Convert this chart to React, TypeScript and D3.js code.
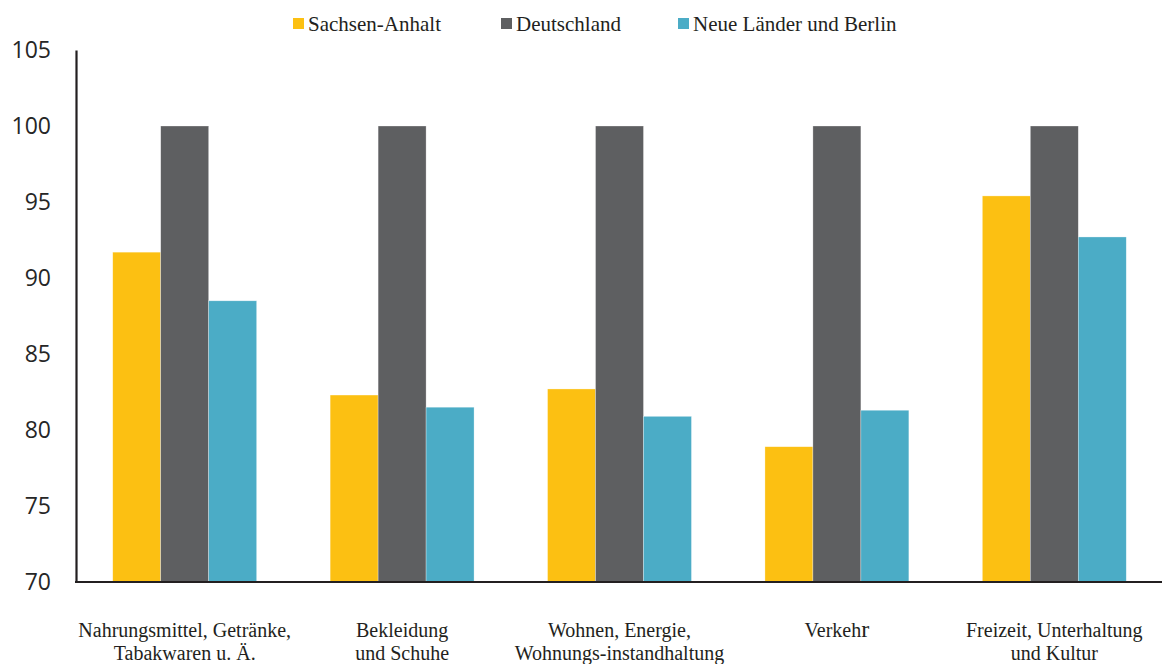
import { useEffect, useRef } from 'react';
import * as d3 from 'd3';

const categories = [
  ['Nahrungsmittel, Getränke,', 'Tabakwaren u. Ä.'],
  ['Bekleidung', 'und Schuhe'],
  ['Wohnen, Energie,', 'Wohnungs-instandhaltung'],
  ['Verkehr'],
  ['Freizeit, Unterhaltung', 'und Kultur'],
];
const seriesNames = ['Sachsen-Anhalt', 'Deutschland', 'Neue Länder und Berlin'];
const sachsenAnhalt = [91.7, 82.3, 82.7, 78.9, 95.4];
const deutschland = [100, 100, 100, 100, 100];
const neueLaender = [88.5, 81.5, 80.9, 81.3, 92.7];
const yTicks = [70, 75, 80, 85, 90, 95, 100, 105];
const colors = ['#FCC012', '#5E5F61', '#4BACC6'];

export default function App() {
  const svgRef = useRef<SVGSVGElement>(null);

  useEffect(() => {
    if (!svgRef.current) return;
    document.body.style.margin = '0';

    const width = 1162;
    const height = 664;
    const margin = { top: 50, right: 0, bottom: 82, left: 76 };
    const serif = '"Liberation Serif", "Times New Roman", serif';

    d3.select(svgRef.current).selectAll('*').remove();
    const svg = d3.select(svgRef.current)
      .attr('width', width)
      .attr('height', height);

    const series = [sachsenAnhalt, deutschland, neueLaender];
    const idx = categories.map((_, i) => i);

    const x0 = d3.scaleBand<number>()
      .domain(idx)
      .range([margin.left, width + 1])
      .paddingInner(0.338)
      .paddingOuter(0.169);

    const x1 = d3.scaleBand<number>()
      .domain([0, 1, 2])
      .range([0, x0.bandwidth()]);

    const y = d3.scaleLinear()
      .domain([70, 105])
      .range([height - margin.bottom, margin.top]);

    // bars
    series.forEach((vals, s) => {
      svg.append('g')
        .selectAll('rect')
        .data(vals)
        .enter()
        .append('rect')
        .attr('x', (_, i) => (x0(i) as number) + (x1(s) as number))
        .attr('y', d => y(d))
        .attr('width', x1.bandwidth())
        .attr('height', d => y(70) - y(d))
        .attr('fill', colors[s])
        .attr('stroke', '#ffffff')
        .attr('stroke-opacity', 0.5)
        .attr('stroke-width', 0.6);
    });

    // y axis
    const yAxis = svg.append('g')
      .attr('transform', `translate(${margin.left},0)`)
      .call(d3.axisLeft(y).tickValues(yTicks).tickSize(0).tickPadding(25));
    yAxis.select('.domain').attr('stroke', '#231F20').attr('stroke-width', 2.2);
    yAxis.selectAll('text')
      .attr('fill', '#262626')
      .style('font-family', '"Open Sans", "Liberation Sans", sans-serif')
      .style('font-size', '23px');

    // baseline
    svg.append('line')
      .attr('x1', margin.left - 1)
      .attr('x2', width)
      .attr('y1', y(70))
      .attr('y2', y(70))
      .attr('stroke', '#231F20')
      .attr('stroke-width', 2.2);

    // category labels
    const labels = svg.append('g')
      .style('font-family', serif)
      .style('font-size', '20px')
      .attr('fill', '#231F20');
    categories.forEach((lines, i) => {
      const cx = (x0(i) as number) + x0.bandwidth() / 2;
      const t = labels.append('text')
        .attr('x', cx)
        .attr('y', 637)
        .attr('text-anchor', 'middle');
      lines.forEach((line, j) => {
        const ts = t.append('tspan')
          .attr('x', cx)
          .attr('dy', j === 0 ? 0 : 23);
        if (line === 'Verkehr') {
          ts.append('tspan').text('Verkeh');
          ts.append('tspan').style('font-size', '24px').text('r');
        } else {
          ts.text(line);
        }
      });
    });

    // legend
    const legendX = [293, 501, 678];
    const legend = svg.append('g')
      .style('font-family', serif)
      .style('font-size', '21px')
      .attr('fill', '#231F20');
    seriesNames.forEach((name, i) => {
      legend.append('rect')
        .attr('x', legendX[i])
        .attr('y', 18)
        .attr('width', 11)
        .attr('height', 11)
        .attr('fill', colors[i]);
      legend.append('text')
        .attr('x', legendX[i] + 15)
        .attr('y', 31)
        .text(name);
    });
  }, []);

  return <svg ref={svgRef} style={{ display: 'block' }}></svg>;
}
